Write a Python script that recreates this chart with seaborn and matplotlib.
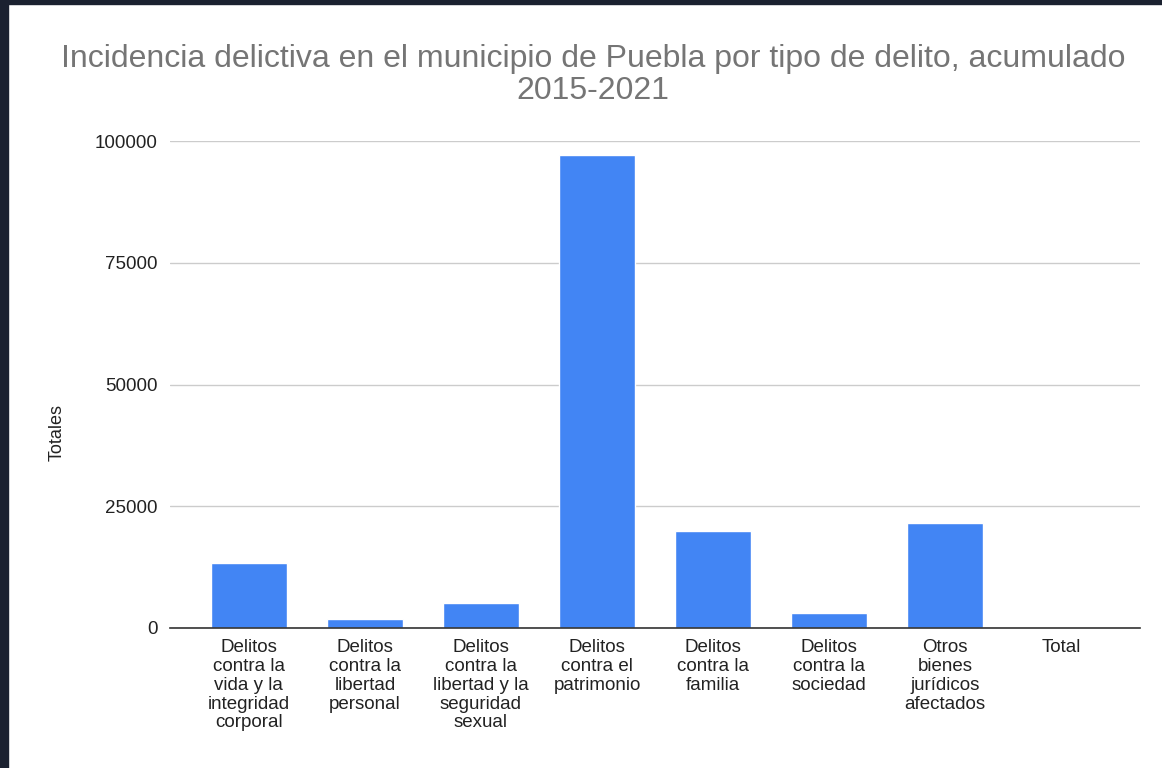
import matplotlib
matplotlib.use("Agg")
import matplotlib.pyplot as plt
import seaborn as sns
import pandas as pd
from matplotlib.patches import Rectangle

categorias = [
    "Delitos\ncontra la\nvida y la\nintegridad\ncorporal",
    "Delitos\ncontra la\nlibertad\npersonal",
    "Delitos\ncontra la\nlibertad y la\nseguridad\nsexual",
    "Delitos\ncontra el\npatrimonio",
    "Delitos\ncontra la\nfamilia",
    "Delitos\ncontra la\nsociedad",
    "Otros\nbienes\njurídicos\nafectados",
    "Total",
]
totales = [13300, 1850, 5150, 97100, 19950, 3100, 21600, 0]
yticks = [0, 25000, 50000, 75000, 100000]

df = pd.DataFrame({"categoria": categorias, "total": totales})

sns.set_theme(style="white")
plt.rcParams["font.family"] = ["Liberation Sans", "DejaVu Sans"]

fig = plt.figure(figsize=(11.62, 7.68), dpi=100)
ax = fig.add_axes([170 / 1162, 1 - 628 / 768, 970 / 1162, 487 / 768])

sns.barplot(data=df, x="categoria", y="total", color="#4285f4",
            saturation=1, width=0.655, ax=ax)

ax.set_ylim(0, 100000)
ax.set_xlim(-0.68, 7.68)
ax.set_yticks(yticks)
ax.set_yticklabels([str(v) for v in yticks], fontsize=13.5, color="#222222")
ax.yaxis.grid(True, color="#cccccc", linewidth=1)
ax.set_axisbelow(True)
ax.tick_params(axis="both", length=0)
ax.tick_params(axis="y", pad=9)
ax.tick_params(axis="x", pad=8)
for lbl in ax.get_xticklabels():
    lbl.set_fontsize(13.5)
    lbl.set_color("#222222")
    lbl.set_linespacing(1.14)
    lbl.set_verticalalignment("top")

for side in ["top", "right", "left"]:
    ax.spines[side].set_visible(False)
ax.spines["bottom"].set_color("#333333")
ax.spines["bottom"].set_linewidth(1.2)

ax.set_xlabel("")
ax.set_ylabel("Totales", fontsize=13, color="#222222")
ax.yaxis.set_label_coords(-0.108, 0.402)

fig.text(593 / 1162, 1 - 75 / 768,
         "Incidencia delictiva en el municipio de Puebla por tipo de delito, acumulado\n2015-2021",
         ha="center", va="center", fontsize=23, color="#757575", linespacing=1.08)

# dark screenshot frame on the left and top edges
fig.patches.append(Rectangle((0, 0), 8 / 1162, 1, transform=fig.transFigure,
                             color="#1b2130", zorder=10))
fig.patches.append(Rectangle((0, 1 - 4 / 768), 1, 4 / 768, transform=fig.transFigure,
                             color="#1b2130", zorder=10))

fig.savefig("out.png", dpi=100)
